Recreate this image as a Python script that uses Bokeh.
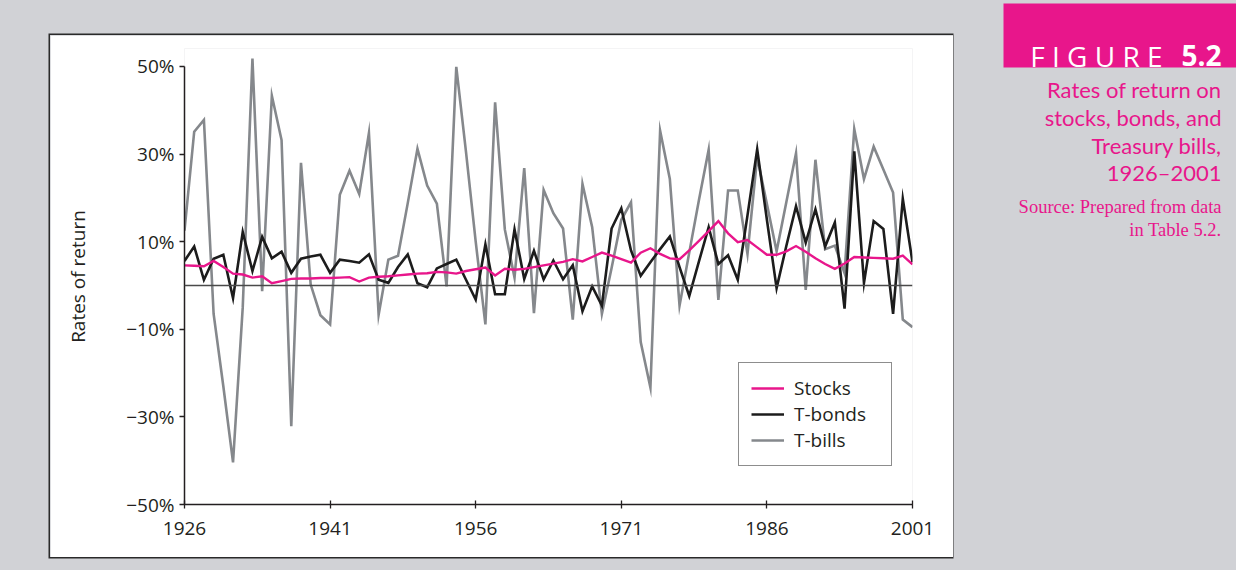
from bokeh.plotting import figure
from bokeh.models import Range1d, FixedTicker, Span, Legend, LegendItem, Spacer
from bokeh.layouts import row, column
from bokeh.embed import file_html
from bokeh.resources import INLINE
from bokeh.core.properties import value

# ---------------- data ----------------
years = list(range(1926, 2002))

# magenta series (legend: "Stocks")
stocks = [4.6, 4.5, 4.4, 5.6, 4.2, 2.7, 2.5, 1.8, 2.1, 0.5,
          1.0, 1.5, 1.6, 1.6, 1.7, 1.7, 1.8, 1.9, 0.9, 1.8,
          2.0, 2.1, 2.3, 2.5, 2.7, 2.8, 3.1, 3.0, 2.7, 3.3,
          3.7, 4.1, 2.3, 3.8, 3.6, 3.8, 4.2, 4.6, 5.0, 5.4,
          6.0, 5.5, 6.5, 7.5, 6.8, 6.0, 5.2, 7.5, 8.5, 7.2,
          6.2, 6.0, 8.0, 10.2, 12.4, 14.7, 11.9, 9.9, 10.4, 8.7,
          7.0, 7.0, 7.8, 9.0, 7.7, 6.2, 4.9, 3.8, 5.0, 6.5,
          6.4, 6.3, 6.2, 6.1, 6.8, 4.8]

# black series (legend: "T-bonds")
t_bonds = [5.6, 8.9, 1.3, 6.1, 7.0, -2.9, 12.2, 3.3, 11.1, 6.2,
           7.7, 2.9, 6.1, 6.6, 7.0, 2.9, 5.9, 5.6, 5.2, 7.1,
           1.3, 0.6, 4.2, 7.1, 0.5, -0.4, 3.9, 4.9, 5.9, 1.3,
           -3.2, 9.4, -2.0, -2.0, 12.8, 1.5, 7.9, 1.4, 5.7, 1.4,
           4.6, -5.9, -0.2, -4.6, 13.0, 17.6, 8.0, 2.2, 5.3, 8.3,
           11.2, 4.2, -2.4, 5.5, 13.3, 4.9, 6.9, 1.3, 16.0, 31.1,
           15.0, -0.6, 9.0, 18.1, 9.8, 17.4, 8.9, 14.4, -5.3, 30.6,
           0.6, 14.7, 12.9, -6.5, 19.8, 5.3]

# grey series (legend: "T-bills")
t_bills = [12.5, 35.1, 37.8, -6.5, -23.0, -40.4, -5.0, 51.8, -1.3, 43.3,
           33.2, -32.1, 28.0, 0.2, -6.8, -8.9, 20.7, 26.2, 20.9, 34.8,
           -6.7, 5.9, 6.8, 18.8, 31.2, 22.8, 18.7, -0.2, 49.9, 30.5,
           10.0, -8.9, 41.8, 12.8, 1.8, 26.8, -6.3, 21.8, 16.5, 13.0,
           -7.8, 23.2, 13.3, -6.5, 4.0, 15.0, 19.0, -12.9, -23.3, 35.3,
           24.3, -4.6, 7.5, 19.5, 31.0, -3.3, 21.7, 21.7, 7.2, 29.3,
           18.6, 7.8, 19.0, 30.2, -1.0, 28.7, 8.3, 9.1, 2.8, 35.7,
           24.3, 31.7, 26.5, 21.2, -7.8, -9.5]

series_names = ["Stocks", "T-bonds", "T-bills"]
x_ticks = [1926, 1941, 1956, 1971, 1986, 2001]
y_ticks = [-50, -30, -10, 10, 30, 50]
y_tick_labels = ["\u221250%", "\u221230%", "\u221210%", "10%", "30%", "50%"]
y_axis_title = "Rates of return"

figure_word = "F I G U R E"
figure_number = "5.2"
caption_lines = ["Rates of return on", "stocks, bonds, and", "Treasury bills,", "1926\u20132001"]
source_lines = ["Source: Prepared from data", "in Table 5.2."]

# ---------------- styles ----------------
GREY_BG = "#d1d2d6"
MAGENTA = "#e8168b"
BLACK = "#1c1c1c"
GREY_LINE = "#85888c"
TEXT = "#231f20"
SANS = "Open Sans"

# ---------------- main chart ----------------
# y range reaches a little above 50% so the tallest peak can pass the axis top,
# while the axis line itself is bounded to -50..50 as in the reference
p = figure(width=903, height=522,
           x_range=Range1d(1926, 2001), y_range=Range1d(-50, 54.1),
           output_backend="svg", toolbar_location=None,
           min_border_left=134, min_border_right=41,
           min_border_top=13, min_border_bottom=53,
           background_fill_color="white", border_fill_color="white",
           outline_line_color=None)
p.styles = {"box-shadow": "0 0 0 1.5px #2a2a2a"}

p.xgrid.grid_line_color = None
p.ygrid.grid_line_color = None

for ax in (p.xaxis[0], p.yaxis[0]):
    ax.axis_line_color = TEXT
    ax.axis_line_width = 1.5
    ax.major_tick_line_color = TEXT
    ax.major_tick_line_width = 1.3
    ax.minor_tick_line_color = None
    ax.major_label_text_font = SANS
    ax.major_label_text_font_size = "19px"
    ax.major_label_text_color = TEXT

p.xaxis.ticker = FixedTicker(ticks=x_ticks)
p.xaxis.major_tick_in = 4
p.xaxis.major_tick_out = 4
p.xaxis.major_label_standoff = 13

p.yaxis.ticker = FixedTicker(ticks=y_ticks)
p.yaxis.bounds = (-50, 50)
p.yaxis.major_label_overrides = {t: lab for t, lab in zip(y_ticks, y_tick_labels)}
p.yaxis.major_tick_in = 0
p.yaxis.major_tick_out = 5
p.yaxis.major_label_standoff = 5
p.yaxis.axis_label = y_axis_title
p.yaxis.axis_label_text_font = SANS
p.yaxis.axis_label_text_font_size = "19px"
p.yaxis.axis_label_text_font_style = "normal"
p.yaxis.axis_label_text_color = TEXT
p.yaxis.axis_label_standoff = 32

p.add_layout(Span(location=0, dimension="width", line_color="#4a4a4a", line_width=1.3))

r_bills = p.line(years, t_bills, line_color=GREY_LINE, line_width=2.6, line_join="miter")
r_bonds = p.line(years, t_bonds, line_color=BLACK, line_width=2.6, line_join="miter")
r_stocks = p.line(years, stocks, line_color=MAGENTA, line_width=2.4, line_join="miter")

legend = Legend(items=[LegendItem(label=series_names[0], renderers=[r_stocks]),
                       LegendItem(label=series_names[1], renderers=[r_bonds]),
                       LegendItem(label=series_names[2], renderers=[r_bills])],
                location=(554, 38), orientation="vertical",
                border_line_color=BLACK, border_line_width=1.3,
                background_fill_color="white", background_fill_alpha=1.0,
                padding=12, spacing=0, margin=0,
                glyph_width=33, glyph_height=20, label_height=20,
                label_standoff=10, label_width=85,
                label_text_font=SANS, label_text_font_size="19px",
                label_text_color=TEXT)
p.add_layout(legend)

# ---------------- caption panel ----------------
QW, QH = 283, 570
q = figure(frame_width=QW, frame_height=QH, x_range=Range1d(0, QW), y_range=Range1d(QH, 0),
           output_backend="svg", toolbar_location=None, title_location=None,
           x_axis_location=None, y_axis_location=None, min_border=0,
           background_fill_color=GREY_BG, border_fill_color=GREY_BG,
           outline_line_color=None)
q.xgrid.grid_line_color = None
q.ygrid.grid_line_color = None

q.quad(left=[50], right=[QW], top=[3], bottom=[67], fill_color=MAGENTA, line_color=None)
q.text(x=[209], y=[55], text=[figure_word], text_align="right", text_baseline="alphabetic",
       text_font=value(SANS), text_font_size="28px", text_color="white")
q.text(x=[268], y=[55], text=[figure_number], text_align="right", text_baseline="alphabetic",
       text_font=value(SANS), text_font_size="28px", text_font_style="bold", text_color="white")
q.text(x=[268] * len(caption_lines), y=[88.5, 117, 145, 172], text=caption_lines,
       text_align="right", text_baseline="alphabetic",
       text_font=value("Lato"), text_font_size="22px", text_color=MAGENTA)
q.text(x=[268] * len(source_lines), y=[206.5, 229.5], text=source_lines,
       text_align="right", text_baseline="alphabetic",
       text_font=value("Liberation Serif"), text_font_size="18.5px", text_color=MAGENTA)

left_col = column(Spacer(width=903, height=35), p, width=903, height=570)
layout = row(Spacer(width=50, height=570), left_col, q,
             width=1236, height=570, styles={"background-color": GREY_BG})

open("out.html", "w").write(file_html(layout, INLINE))
